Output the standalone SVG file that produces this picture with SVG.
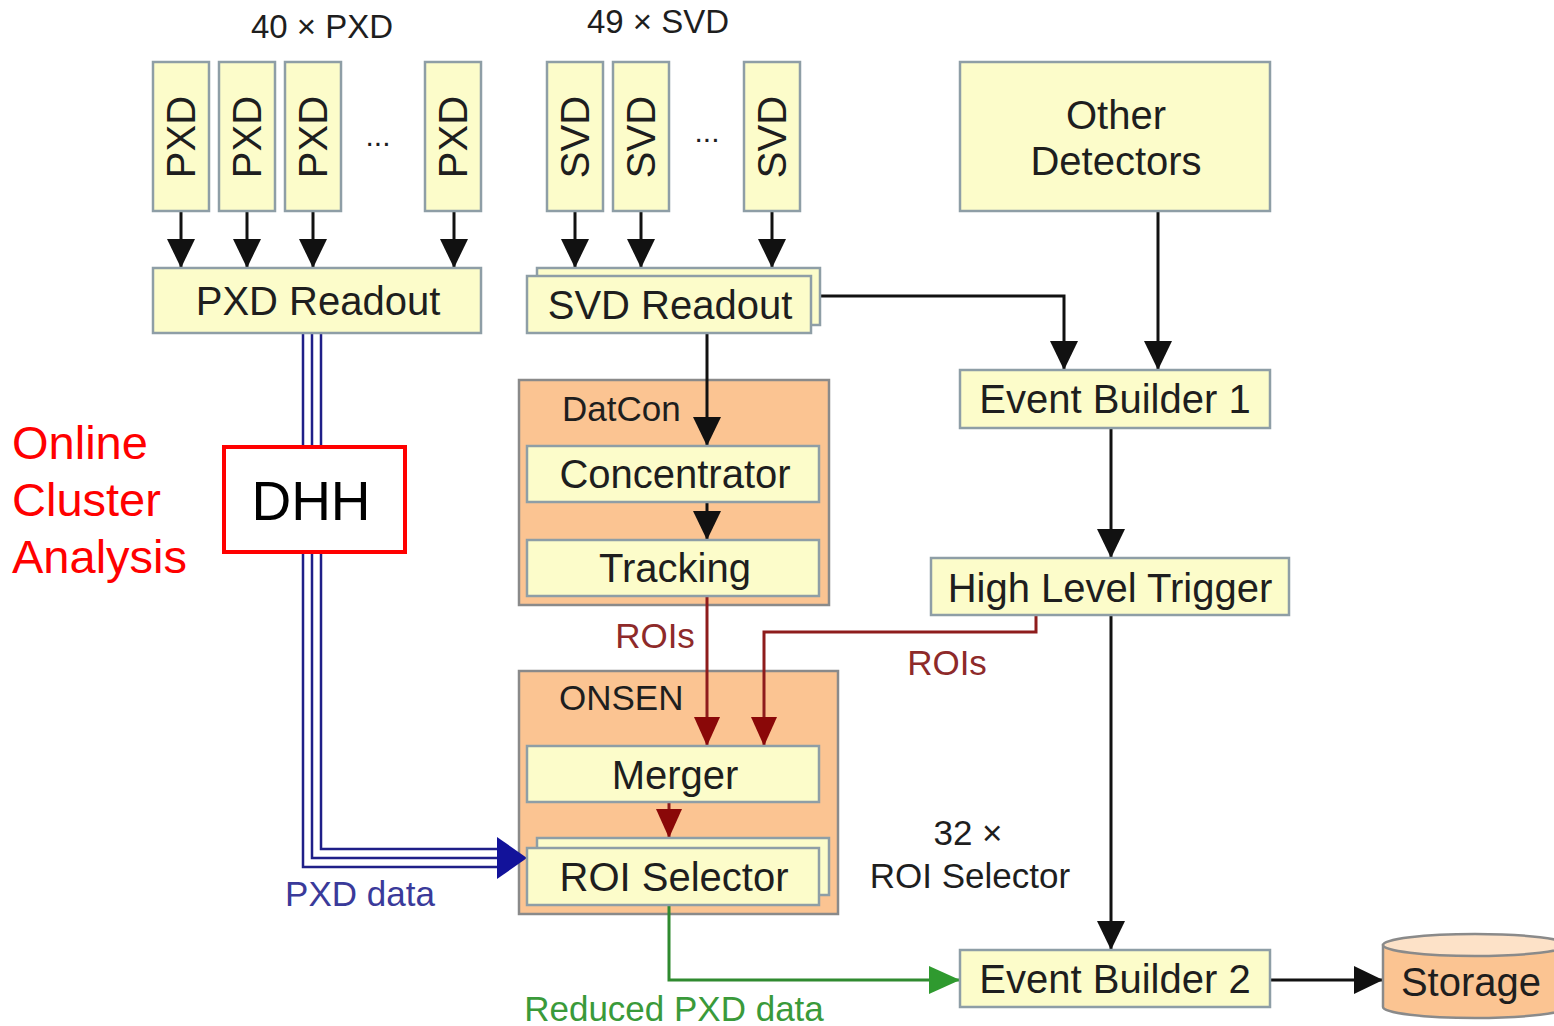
<svg xmlns="http://www.w3.org/2000/svg" width="1554" height="1026" viewBox="0 0 1554 1026">
  <style>
    .box { fill: #fcfcca; stroke: #8e9ea6; stroke-width: 2.5; }
    .grp { fill: #fbc492; stroke: #8a8a8a; stroke-width: 2.5; }
    .t { font-family: "Liberation Sans", Arial, sans-serif; fill: #1e1e1e; }
    .lbl { font-size: 40px; text-anchor: middle; }
    .sm { font-size: 35px; }
    .k { stroke: #111; stroke-width: 3; fill: none; }
    .r { stroke: #8e1c1c; stroke-width: 3; fill: none; }
    .g { stroke: #2f8a2f; stroke-width: 3; fill: none; }
    .b { stroke: #1f1f88; stroke-width: 2.5; fill: none; }
  </style>
  <defs>
    <marker id="ak" markerUnits="userSpaceOnUse" markerWidth="30" markerHeight="30" refX="29" refY="14" orient="auto" viewBox="0 0 30 30">
      <path d="M0,0 L29,14 L0,28 z" fill="#111"/>
    </marker>
    <marker id="ar" markerUnits="userSpaceOnUse" markerWidth="30" markerHeight="30" refX="29" refY="13" orient="auto" viewBox="0 0 30 30">
      <path d="M0,0 L29,13 L0,26 z" fill="#8a0808"/>
    </marker>
    <marker id="ag" markerUnits="userSpaceOnUse" markerWidth="32" markerHeight="30" refX="31" refY="14" orient="auto" viewBox="0 0 32 30">
      <path d="M0,0 L31,14 L0,28 z" fill="#2f9a2f"/>
    </marker>
  </defs>

  <rect width="1554" height="1026" fill="#ffffff"/>

  <!-- container groups sit underneath the connectors -->
  <g id="datcon">
    <rect class="grp" x="519" y="380" width="310" height="225"/>
    <text class="t sm" x="562" y="421">DatCon</text>
  </g>
  <g id="onsen">
    <rect class="grp" x="519" y="671" width="319" height="243"/>
    <text class="t sm" x="559" y="710">ONSEN</text>
  </g>

  <!-- connectors -->
  <g id="connectors">
    <!-- PXD modules to PXD readout -->
    <line class="k" x1="181" y1="211" x2="181" y2="268" marker-end="url(#ak)"/>
    <line class="k" x1="247" y1="211" x2="247" y2="268" marker-end="url(#ak)"/>
    <line class="k" x1="313" y1="211" x2="313" y2="268" marker-end="url(#ak)"/>
    <line class="k" x1="454" y1="211" x2="454" y2="268" marker-end="url(#ak)"/>
    <!-- SVD modules to SVD readout -->
    <line class="k" x1="575" y1="211" x2="575" y2="268" marker-end="url(#ak)"/>
    <line class="k" x1="641" y1="211" x2="641" y2="268" marker-end="url(#ak)"/>
    <line class="k" x1="772" y1="211" x2="772" y2="268" marker-end="url(#ak)"/>
    <!-- SVD readout to event builder 1 -->
    <polyline class="k" points="820,296 1064,296 1064,370" marker-end="url(#ak)"/>
    <line class="k" x1="1158" y1="211" x2="1158" y2="370" marker-end="url(#ak)"/>
    <!-- SVD readout to concentrator and tracking -->
    <line class="k" x1="707" y1="333" x2="707" y2="446" marker-end="url(#ak)"/>
    <line class="k" x1="707" y1="502" x2="707" y2="540" marker-end="url(#ak)"/>
    <!-- event building chain -->
    <line class="k" x1="1111" y1="428" x2="1111" y2="558" marker-end="url(#ak)"/>
    <line class="k" x1="1111" y1="615" x2="1111" y2="950" marker-end="url(#ak)"/>
    <line class="k" x1="1270" y1="980" x2="1383" y2="980" marker-end="url(#ak)"/>
    <!-- ROIs -->
    <line class="r" x1="707" y1="596" x2="707" y2="746" marker-end="url(#ar)"/>
    <polyline class="r" points="1036,615 1036,632 764,632 764,746" marker-end="url(#ar)"/>
    <line class="r" x1="669" y1="802" x2="669" y2="838" marker-end="url(#ar)"/>
    <!-- reduced PXD data -->
    <polyline class="g" points="669,905 669,980 960,980" marker-end="url(#ag)"/>
    <!-- PXD data, triple line -->
    <polyline class="b" points="303,333 303,867 500,867"/>
    <polyline class="b" points="312,333 312,858 500,858"/>
    <polyline class="b" points="321,333 321,849 500,849"/>
    <path d="M497,837 L527,858 L497,879 z" fill="#12129a"/>
  </g>

  <!-- PXD modules -->
  <g id="pxd-modules">
    <rect class="box" x="153" y="62" width="56" height="149"/>
    <rect class="box" x="219" y="62" width="56" height="149"/>
    <rect class="box" x="285" y="62" width="56" height="149"/>
    <rect class="box" x="425" y="62" width="56" height="149"/>
    <text class="t lbl" transform="translate(195,137) rotate(-90)">PXD</text>
    <text class="t lbl" transform="translate(261,137) rotate(-90)">PXD</text>
    <text class="t lbl" transform="translate(327,137) rotate(-90)">PXD</text>
    <text class="t lbl" transform="translate(467,137) rotate(-90)">PXD</text>
    <text class="t" x="378" y="146" font-size="30" text-anchor="middle">...</text>
    <text class="t" x="322" y="38" font-size="33" text-anchor="middle">40 × PXD</text>
  </g>

  <!-- SVD modules -->
  <g id="svd-modules">
    <rect class="box" x="547" y="62" width="56" height="149"/>
    <rect class="box" x="613" y="62" width="56" height="149"/>
    <rect class="box" x="744" y="62" width="56" height="149"/>
    <text class="t lbl" transform="translate(589,137) rotate(-90)">SVD</text>
    <text class="t lbl" transform="translate(655,137) rotate(-90)">SVD</text>
    <text class="t lbl" transform="translate(786,137) rotate(-90)">SVD</text>
    <text class="t" x="707" y="142" font-size="30" text-anchor="middle">...</text>
    <text class="t" x="658" y="33" font-size="33" text-anchor="middle">49 × SVD</text>
  </g>

  <g id="other-detectors">
    <rect class="box" x="960" y="62" width="310" height="149"/>
    <text class="t lbl" x="1116" y="129">Other</text>
    <text class="t lbl" x="1116" y="175">Detectors</text>
  </g>

  <g id="pxd-readout">
    <rect class="box" x="153" y="268" width="328" height="65"/>
    <text class="t lbl" x="318" y="315">PXD Readout</text>
  </g>

  <g id="svd-readout">
    <rect class="box" x="537" y="268" width="283" height="57"/>
    <rect class="box" x="527" y="276" width="284" height="57"/>
    <text class="t lbl" x="670" y="319">SVD Readout</text>
  </g>

  <g id="event-builder-1">
    <rect class="box" x="960" y="370" width="310" height="58"/>
    <text class="t lbl" x="1115" y="413">Event Builder 1</text>
  </g>

  <g id="concentrator">
    <rect class="box" x="527" y="446" width="292" height="56"/>
    <text class="t lbl" x="675" y="488">Concentrator</text>
  </g>
  <g id="tracking">
    <rect class="box" x="527" y="540" width="292" height="56"/>
    <text class="t lbl" x="675" y="582">Tracking</text>
  </g>

  <g id="hlt">
    <rect class="box" x="931" y="558" width="358" height="57"/>
    <text class="t lbl" x="1110" y="602">High Level Trigger</text>
  </g>

  <g id="merger">
    <rect class="box" x="527" y="746" width="292" height="56"/>
    <text class="t lbl" x="675" y="789">Merger</text>
  </g>
  <g id="roi-selector">
    <rect class="box" x="537" y="838" width="292" height="57"/>
    <rect class="box" x="527" y="848" width="292" height="57"/>
    <text class="t lbl" x="674" y="891">ROI Selector</text>
  </g>

  <g id="event-builder-2">
    <rect class="box" x="960" y="950" width="310" height="57"/>
    <text class="t lbl" x="1115" y="993">Event Builder 2</text>
  </g>

  <g id="storage">
    <path d="M1383,945 L1383,1007 A92,11 0 0 0 1567,1007 L1567,945 z" fill="#fbc492" stroke="#8a8a8a" stroke-width="2.5"/>
    <ellipse cx="1475" cy="945" rx="92" ry="11" fill="#fde2c8" stroke="#8a8a8a" stroke-width="2.5"/>
    <text class="t lbl" x="1471" y="996">Storage</text>
  </g>

  <g id="dhh">
    <rect x="224" y="447" width="181" height="105" fill="#ffffff" stroke="#ff0000" stroke-width="4"/>
    <text x="311" y="520" font-family="Liberation Sans, Arial, sans-serif" font-size="55" fill="#000" text-anchor="middle">DHH</text>
  </g>

  <!-- free labels -->
  <g id="labels" font-family="Liberation Sans, Arial, sans-serif">
    <text x="655" y="648" font-size="35" fill="#8e2a2a" text-anchor="middle">ROIs</text>
    <text x="947" y="675" font-size="35" fill="#8e2a2a" text-anchor="middle">ROIs</text>
    <text x="968" y="845" font-size="35" fill="#1e1e1e" text-anchor="middle">32 ×</text>
    <text x="970" y="888" font-size="35" fill="#1e1e1e" text-anchor="middle">ROI Selector</text>
    <text x="360" y="906" font-size="35" fill="#3a3a9a" text-anchor="middle">PXD data</text>
    <text x="674" y="1021" font-size="35" fill="#3a9a3a" text-anchor="middle">Reduced PXD data</text>
    <text x="12" y="459" font-size="47" fill="#ff0000">Online</text>
    <text x="12" y="516" font-size="47" fill="#ff0000">Cluster</text>
    <text x="12" y="573" font-size="47" fill="#ff0000">Analysis</text>
  </g>
</svg>
